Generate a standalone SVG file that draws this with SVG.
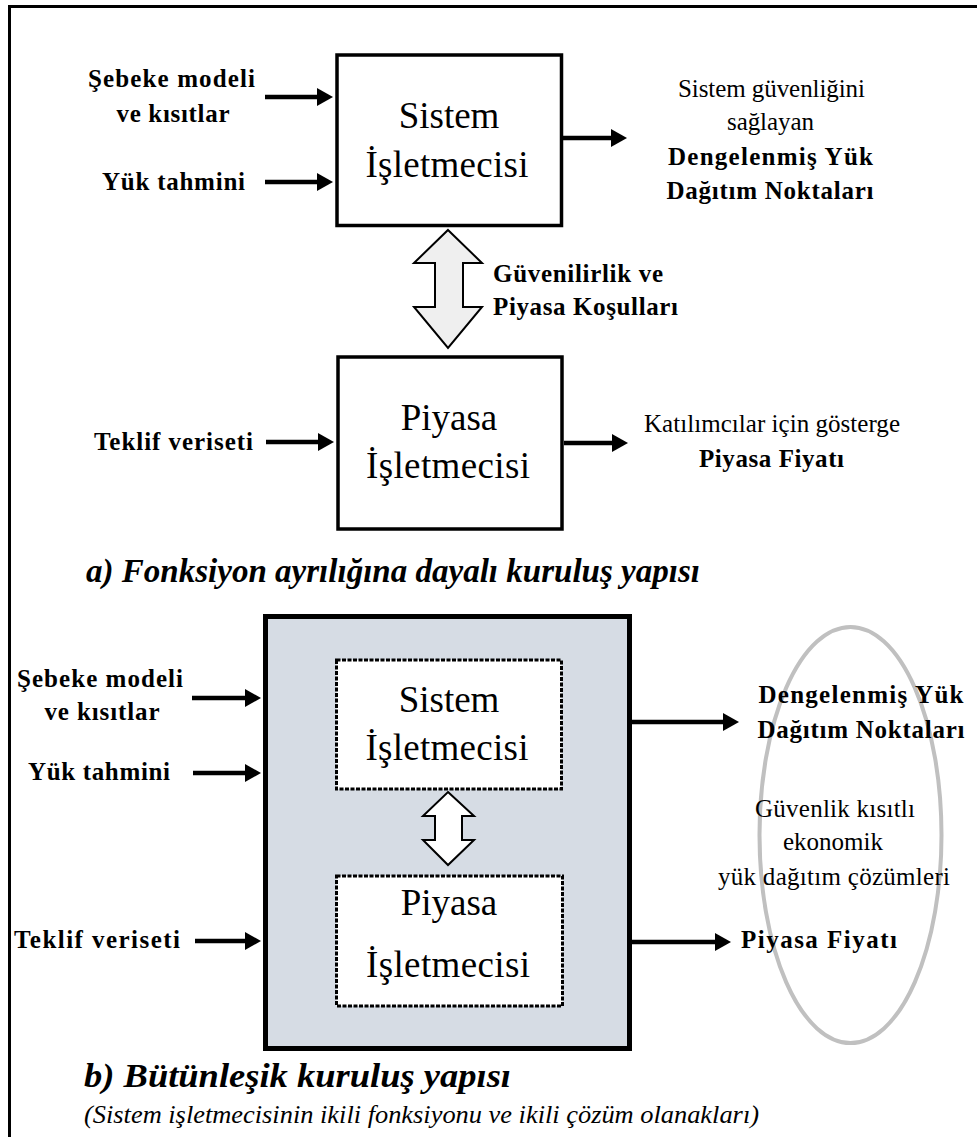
<svg xmlns="http://www.w3.org/2000/svg" width="977" height="1137" viewBox="0 0 977 1137">
  <defs>
    <style>
      text { font-family: "Liberation Serif", "Times New Roman", serif; fill: #000; }
      .lbl { font-size: 25px; font-weight: bold; }
      .txt { font-size: 25px; }
      .big { font-size: 37px; }
      .cap { font-size: 33px; font-weight: bold; font-style: italic; }
      .sub { font-size: 25px; font-style: italic; }
      .mid { text-anchor: middle; }
      .box { fill: #fff; stroke: #000; stroke-width: 3.5; }
      .dbox { fill: #fff; stroke: #000; stroke-width: 3; stroke-dasharray: 4 1.5; }
      .conn line { stroke: #000; stroke-width: 4.5; marker-end: url(#head); }
    </style>
    <marker id="head" markerUnits="userSpaceOnUse" markerWidth="16" markerHeight="18" refX="6" refY="9" orient="auto">
      <path d="M0,0 L16,9 L0,18 Z" fill="#000"/>
    </marker>
  </defs>

  <rect width="977" height="1137" fill="#fff"/>

  <!-- frame: top and left border only -->
  <path d="M9.5,1137 L9.5,6.5 L977,6.5" fill="none" stroke="#000" stroke-width="3"/>

  <!-- ===== a) separated structure ===== -->
  <g id="sistem-a">
    <rect class="box" x="337" y="55" width="224.5" height="170.5"/>
    <text class="big mid" x="449" y="128">Sistem</text>
    <text class="big mid" x="447" y="177" textLength="163">İşletmecisi</text>
  </g>

  <g id="piyasa-a">
    <rect class="box" x="338" y="357" width="224" height="172"/>
    <text class="big mid" x="449" y="430">Piyasa</text>
    <text class="big mid" x="448" y="478" textLength="164">İşletmecisi</text>
  </g>

  <g id="exchange-a">
    <polygon points="448,230 482,263 463,263 463,307 482,307 448,348 414,307 435,307 435,263 414,263" fill="#efefef" stroke="#000" stroke-width="2"/>
    <text class="lbl" x="493" y="282" textLength="170">Güvenilirlik ve</text>
    <text class="lbl" x="493" y="315" textLength="185">Piyasa Koşulları</text>
  </g>

  <g id="inputs-a">
    <text class="lbl mid" x="171.5" y="87" textLength="167">Şebeke modeli</text>
    <text class="lbl mid" x="173" y="122" textLength="113">ve kısıtlar</text>
    <text class="lbl mid" x="173.5" y="190" textLength="143">Yük tahmini</text>
    <text class="lbl mid" x="173.5" y="450" textLength="159">Teklif veriseti</text>
  </g>

  <g id="outputs-a">
    <text class="txt mid" x="771.5" y="97" textLength="187">Sistem güvenliğini</text>
    <text class="txt mid" x="770.5" y="130" textLength="87">sağlayan</text>
    <text class="lbl mid" x="770.5" y="165" textLength="205">Dengelenmiş Yük</text>
    <text class="lbl mid" x="770" y="199" textLength="207">Dağıtım Noktaları</text>
    <text class="txt mid" x="772" y="432" textLength="256">Katılımcılar için gösterge</text>
    <text class="lbl mid" x="771.5" y="467" textLength="145">Piyasa Fiyatı</text>
  </g>

  <text class="cap" x="86" y="582" textLength="614" lengthAdjust="spacingAndGlyphs">a) Fonksiyon ayrılığına dayalı kuruluş yapısı</text>

  <!-- ===== b) integrated structure ===== -->
  <g id="integrated-b">
    <rect x="265.5" y="616.5" width="364" height="432" fill="#d6dce4" stroke="#000" stroke-width="5"/>
  </g>

  <g id="sistem-b">
    <rect class="dbox" x="336.5" y="660" width="225" height="129"/>
    <text class="big mid" x="449" y="712">Sistem</text>
    <text class="big mid" x="447" y="760" textLength="163">İşletmecisi</text>
  </g>

  <g id="piyasa-b">
    <rect class="dbox" x="336.5" y="876" width="226" height="130"/>
    <text class="big mid" x="449" y="915">Piyasa</text>
    <text class="big mid" x="448" y="977" textLength="164">İşletmecisi</text>
  </g>

  <g id="exchange-b">
    <polygon points="448,792 474,816 462,816 462,840 474,840 448,865 423,840 435,840 435,816 423,816" fill="#fff" stroke="#000" stroke-width="2"/>
  </g>

  <g id="solutions-b">
    <ellipse cx="850.5" cy="835" rx="91" ry="208" fill="none" stroke="#c0c0c0" stroke-width="4"/>
    <text class="lbl mid" x="861" y="703" textLength="205">Dengelenmiş Yük</text>
    <text class="lbl mid" x="861" y="738" textLength="207">Dağıtım Noktaları</text>
    <text class="txt mid" x="835" y="817" textLength="160">Güvenlik kısıtlı</text>
    <text class="txt mid" x="833" y="850" textLength="100">ekonomik</text>
    <text class="txt mid" x="834" y="885" textLength="232">yük dağıtım çözümleri</text>
    <text class="lbl" x="741" y="948" textLength="156">Piyasa Fiyatı</text>
  </g>

  <g id="inputs-b">
    <text class="lbl mid" x="100" y="687" textLength="166">Şebeke modeli</text>
    <text class="lbl mid" x="102" y="720" textLength="115">ve kısıtlar</text>
    <text class="lbl mid" x="99" y="780" textLength="142">Yük tahmini</text>
    <text class="lbl mid" x="97" y="948" textLength="166">Teklif veriseti</text>
  </g>

  <text class="cap" x="84" y="1087" textLength="427" lengthAdjust="spacingAndGlyphs">b) Bütünleşik kuruluş yapısı</text>
  <text class="sub" x="84" y="1123" textLength="675" lengthAdjust="spacingAndGlyphs">(Sistem işletmecisinin ikili fonksiyonu ve ikili çözüm olanakları)</text>

  <!-- connectors -->
  <g id="connectors" class="conn">
    <line x1="265" y1="97" x2="323" y2="97"/>
    <line x1="265" y1="182" x2="323" y2="182"/>
    <line x1="563" y1="138" x2="617" y2="138"/>
    <line x1="266" y1="442" x2="324" y2="442"/>
    <line x1="564" y1="443" x2="618" y2="443"/>
    <line x1="192" y1="698" x2="251" y2="698"/>
    <line x1="193" y1="773" x2="251" y2="773"/>
    <line x1="195" y1="941" x2="251" y2="941"/>
    <line x1="632" y1="722" x2="729" y2="722"/>
    <line x1="632" y1="942" x2="721" y2="942"/>
  </g>
</svg>
